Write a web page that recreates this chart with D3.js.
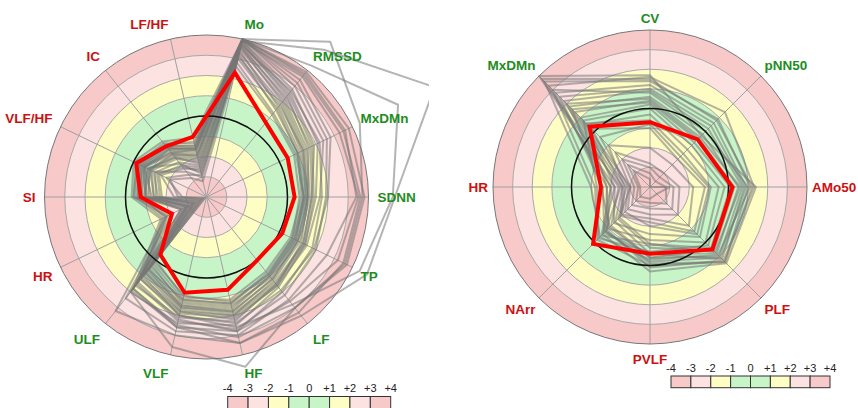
<!DOCTYPE html>
<html>
<head>
<meta charset="utf-8">
<script src="https://cdn.jsdelivr.net/npm/d3@7"></script>
<style>
  html, body { margin: 0; padding: 0; background: #fff; }
  svg { display: block; font-family: "Liberation Sans", Arial, sans-serif; }
</style>
</head>
<body>
<svg id="chart" width="858" height="408"></svg>
<script>
// ---- Left radar: HRV indices (clockwise from top) ----
const leftAxes = ["Mo", "RMSSD", "MxDMn", "SDNN", "TP", "LF", "HF", "VLF", "ULF", "HR", "SI", "VLF/HF", "IC", "LF/HF"];
// indices that load on the sympathetic side (labelled red)
const leftSympathetic = ["HR", "SI", "VLF/HF", "IC", "LF/HF"];
const leftSubject = [2.3, 0.7, 0.45, 0.35, 0.15, 0.0, 0.7, 0.85, -0.35, -2.1, -0.75, -0.15, -0.8, -0.95];
const leftGroup = [
  [3.9, 2.6, 1.9, 1.2, 1.3, 1.4, 1.9, 1.6, 0.6, -2.8, -0.8, -0.4, -1.0, -1.6],
  [4.0, 3.0, 2.4, 1.6, 1.5, 1.6, 2.1, 1.9, 1.2, -1.6, -0.5, -0.2, -0.6, -1.3],
  [3.6, 2.0, 1.3, 0.9, 0.8, 1.0, 1.6, 1.4, 0.3, -3.0, -1.0, -0.6, -1.2, -1.8],
  [3.8, 2.4, 1.6, 1.0, 1.0, 1.2, 1.8, 1.5, 0.5, -3.3, -1.2, -0.8, -1.4, -2.0],
  [4.0, 3.4, 2.8, 2.0, 1.9, 1.9, 2.4, 2.0, 1.0, -1.8, -0.6, -0.3, -0.8, -1.4],
  [3.4, 1.7, 1.1, 0.8, 0.7, 0.8, 1.4, 1.2, 0.2, -3.6, -1.4, -1.0, -1.6, -2.2],
  [3.9, 3.6, 3.3, 3.5, 3.2, 2.6, 2.8, 2.2, 1.4, -2.2, -0.4, -0.1, -0.7, -1.2],
  [4.0, 3.9, 3.8, 3.8, 3.7, 3.0, 3.1, 2.5, 1.8, -1.5, -0.3, 0.0, -0.5, -1.0],
  [3.7, 2.2, 1.5, 1.1, 1.1, 1.3, 2.0, 1.7, 0.8, -3.4, -1.5, -1.2, -1.8, -2.4],
  [3.2, 1.5, 1.0, 0.7, 0.6, 0.7, 1.2, 1.1, 0.0, -3.8, -2.4, -1.5, -2.2, -2.6],
  [2.8, 1.3, 0.9, 0.8, 0.9, 1.1, 1.5, 1.3, 0.4, -3.0, -1.0, -0.7, -1.9, -2.8],
  [3.9, 2.8, 2.1, 1.4, 1.4, 1.5, 2.3, 2.1, 1.6, -1.9, -0.7, -0.5, -1.1, -1.7],
  [4.0, 3.7, 3.5, 3.6, 3.5, 3.3, 3.4, 3.0, 3.2, -1.8, -0.4, -0.2, -0.9, -1.5],
  [4.0, 5.8, 4.4, 3.7, 3.6, 3.0, 4.6, 3.6, 2.0, -2.6, -1.0, -0.5, -1.2, -1.6],
  [3.9, 5.3, 8.5, 5.3, 4.8, 3.5, 3.4, 2.6, 1.8, -2.9, -1.3, -0.6, -1.3, -1.9],
  [4.0, 4.3, 6.5, 5.2, 4.4, 2.8, 2.6, 2.0, 1.2, -3.1, -1.4, -0.9, -1.5, -2.1],
  [3.5, 2.1, 1.4, 1.0, 1.2, 1.6, 2.2, 1.8, 0.9, -3.2, -1.6, -1.1, -2.4, -3.0],
  [3.3, 1.9, 1.2, 0.9, 0.9, 1.0, 1.7, 1.5, 0.7, -2.7, -0.9, -0.8, -1.5, -2.3],
  [3.0, 1.6, 1.0, 0.8, 0.8, 0.9, 1.3, 1.0, 0.1, -3.9, -2.8, -1.8, -2.6, -2.9],
  [4.0, 3.2, 2.6, 1.9, 2.0, 2.2, 2.7, 2.3, 1.5, -1.7, -0.8, -0.6, -1.0, -1.5],
  [3.8, 2.5, 1.8, 1.3, 1.4, 1.7, 2.5, 2.4, 2.0, -2.9, -1.1, -0.9, -1.3, -1.9],
  [3.6, 2.3, 1.7, 1.2, 1.3, 1.5, 2.0, 1.8, 1.1, -3.5, -1.8, -1.4, -2.0, -2.5],
  [2.6, 1.2, 0.8, 0.6, 0.7, 0.9, 1.4, 1.2, 0.6, -3.7, -2.6, -2.0, -2.8, -3.2],
  [4.0, 3.8, 3.6, 3.4, 2.6, 2.5, 3.0, 2.8, 2.4, -2.1, -0.6, -0.3, -0.8, -1.4],
  [3.7, 2.7, 2.2, 1.7, 1.8, 2.0, 2.8, 2.6, 1.9, -2.6, -0.7, -0.4, -0.9, -1.6],
  [3.1, 1.8, 1.3, 1.0, 1.0, 1.2, 1.8, 1.6, 0.8, -3.3, -1.7, -1.3, -2.1, -2.7]
];

// ---- Right radar: time-domain / spectral shares ----
const rightAxes = ["CV", "pNN50", "AMo50", "PLF", "PVLF", "NArr", "HR", "MxDMn"];
const rightSympathetic = ["AMo50", "PLF", "PVLF", "NArr", "HR"];
const rightSubject = [-0.7, -0.57, 0.2, 0.5, -0.6, 0.1, -1.5, 0.35];
const rightGroup = [
  [1.7, -0.3, 1.4, 1.5, 0.3, -0.6, -2.2, 4.0],
  [1.6, 1.4, 1.3, 1.3, 0.1, -0.9, -2.0, 3.3],
  [1.2, 0.6, 0.9, 1.1, -0.2, -0.8, -1.8, 2.8],
  [0.9, 0.2, 0.7, 1.0, -0.4, -1.2, -2.4, 2.2],
  [0.6, -0.2, 0.5, 0.8, -0.6, -1.5, -2.6, 1.8],
  [0.4, -0.5, 0.3, 0.6, -0.9, -1.7, -2.8, 1.4],
  [0.2, -0.8, 0.1, 0.4, -1.1, -1.8, -3.0, 1.0],
  [0.0, -1.0, -0.2, 0.2, -0.7, -0.3, -1.3, 0.8],
  [-0.3, -1.3, -0.5, 0.0, -1.3, -1.0, -1.8, 0.5],
  [-0.6, -1.6, -0.9, -0.4, -1.6, -1.4, -2.2, 0.6],
  [1.4, 0.9, 1.1, 0.9, -0.3, -0.4, -1.0, 3.6],
  [1.0, 0.4, 0.8, 1.2, -0.6, -0.7, -1.6, 2.5],
  [-1.0, -2.0, -1.2, -0.8, -2.2, -1.9, -2.6, 0.2],
  [-2.8, -3.0, -2.5, -2.0, -2.6, -2.4, -3.0, -1.5],
  [-3.0, -3.3, -2.8, -2.4, -2.9, -2.7, -3.2, -2.0],
  [-3.3, -3.6, -3.2, -2.8, -3.2, -3.0, -3.4, -2.4],
  [-3.6, -4.0, -3.0, -3.5, -3.4, -3.3, -3.5, -2.8],
  [0.8, 0.0, 1.0, 1.4, 0.0, -0.2, -1.2, 3.0],
  [0.5, -0.4, 0.6, 0.7, -1.1, -0.5, -2.0, 2.0],
  [0.3, -0.6, 0.2, 0.5, -0.4, -1.1, -1.5, 1.6],
  [1.5, 0.8, 1.2, 1.4, -0.1, -0.8, -2.5, 3.8],
  [-0.8, -1.8, -1.0, -0.6, -2.0, -2.2, -2.9, -0.4],
  [-2.0, -2.4, -1.8, -1.2, -2.4, -2.0, -2.7, -1.0]
];

// ---- z-score scale and band legend ----
const zTicks = ["-4", "-3", "-2", "-1", "0", "+1", "+2", "+3", "+4"];
const zBands = [-4, -3, -2, -1, 0, 1, 2, 3];

const bandColor = d => {
  const a = d < 0 ? -d - 1 : d;       // distance from the norm
  return ["#c8f5c8", "#fdfdc4", "#fde2e2", "#f8c9c9"][a];
};
const RED = "#cc1111", GREEN = "#1e8c1e";

const svg = d3.select("#chart");
const defs = svg.append("defs");
defs.append("clipPath").attr("id", "leftClip")
  .append("rect").attr("x", 0).attr("y", 0).attr("width", 429).attr("height", 408);

function radar(opt) {
  const n = opt.axes.length;
  const r = d3.scaleLinear().domain([-4, 4]).range([0, opt.R]);
  const ang = i => (i + opt.offset) * 2 * Math.PI / n;   // clockwise from north

  const root = svg.append("g").attr("clip-path", opt.clip ? `url(#${opt.clip})` : null);
  const g = root.append("g").attr("transform", `translate(${opt.cx},${opt.cy})`);

  // colour bands, outermost first
  g.selectAll("circle.band").data(zBands.slice().reverse()).join("circle")
    .attr("class", "band")
    .attr("r", d => r(d + 1))
    .attr("fill", d => bandColor(d));

  // ring outlines
  g.selectAll("circle.ring").data(zBands.slice(1)).join("circle")
    .attr("class", "ring")
    .attr("r", d => r(d))
    .attr("fill", "none").attr("stroke", "#a9a9a9").attr("stroke-width", 1);

  // spokes
  g.selectAll("line.spoke").data(opt.axes).join("line")
    .attr("class", "spoke")
    .attr("x1", 0).attr("y1", 0)
    .attr("x2", (d, i) => r(4) * Math.sin(ang(i)))
    .attr("y2", (d, i) => -r(4) * Math.cos(ang(i)))
    .attr("stroke", "#a0a0a0").attr("stroke-width", 1);

  g.append("circle").attr("r", r(4))
    .attr("fill", "none").attr("stroke", "#777").attr("stroke-width", 1);

  const line = d3.lineRadial()
    .angle((d, i) => ang(i))
    .radius(d => r(d))
    .curve(d3.curveLinearClosed);

  // reference group
  g.selectAll("path.grp").data(opt.group).join("path")
    .attr("class", "grp")
    .attr("d", line)
    .attr("fill", "none")
    .attr("stroke", "#777")
    .attr("stroke-opacity", 0.55)
    .attr("stroke-width", 2)
    .attr("stroke-linejoin", "round");

  // norm circle
  g.append("circle").attr("r", r(0))
    .attr("fill", "none").attr("stroke", "#111").attr("stroke-width", 1.5);

  // subject
  g.append("path").datum(opt.subject)
    .attr("d", line)
    .attr("fill", "none")
    .attr("stroke", "#ff0000")
    .attr("stroke-width", 4)
    .attr("stroke-linejoin", "miter");

  // axis labels
  g.selectAll("text.axis").data(opt.axes).join("text")
    .attr("class", "axis")
    .each(function (d, i) {
      const a = ang(i);
      const s = Math.cos(a), c = Math.sin(a);        // s: up component, c: right component
      const x = opt.labelR * c, y = -opt.labelR * s;
      const anchor = Math.abs(c) < 0.1 ? "middle" : (c > 0 ? "start" : "end");
      d3.select(this)
        .attr("x", x)
        .attr("y", y + 5 - 10 * s + (s > 0.9 ? 3 : 0))
        .attr("text-anchor", anchor);
    })
    .attr("font-size", 13.5)
    .attr("font-weight", "bold")
    .attr("fill", d => opt.sympathetic.includes(d) ? RED : GREEN)
    .text(d => d);
}

function legend(x0, x1, boxTop, boxH, textY) {
  const x = d3.scaleLinear().domain([-4, 4]).range([x0, x1]);
  const lg = svg.append("g");
  lg.selectAll("rect").data(zBands).join("rect")
    .attr("x", d => x(d)).attr("y", boxTop)
    .attr("width", d => x(d + 1) - x(d)).attr("height", boxH)
    .attr("fill", d => bandColor(d))
    .attr("stroke", "#333").attr("stroke-width", 1);
  lg.selectAll("text").data(zTicks).join("text")
    .attr("x", (d, i) => x(i - 4)).attr("y", textY)
    .attr("text-anchor", "middle")
    .attr("font-size", 11)
    .attr("fill", "#222")
    .text(d => d);
}

radar({ axes: leftAxes, sympathetic: leftSympathetic, subject: leftSubject, group: leftGroup,
        cx: 206.5, cy: 197, R: 162, offset: 0.5, labelR: 171, clip: "leftClip" });
radar({ axes: rightAxes, sympathetic: rightSympathetic, subject: rightSubject, group: rightGroup,
        cx: 650, cy: 187, R: 157, offset: 0, labelR: 162 });

legend(227.7, 390.7, 396.5, 13, 392);
legend(671, 830, 376, 11.7, 372);
</script>
</body>
</html>
